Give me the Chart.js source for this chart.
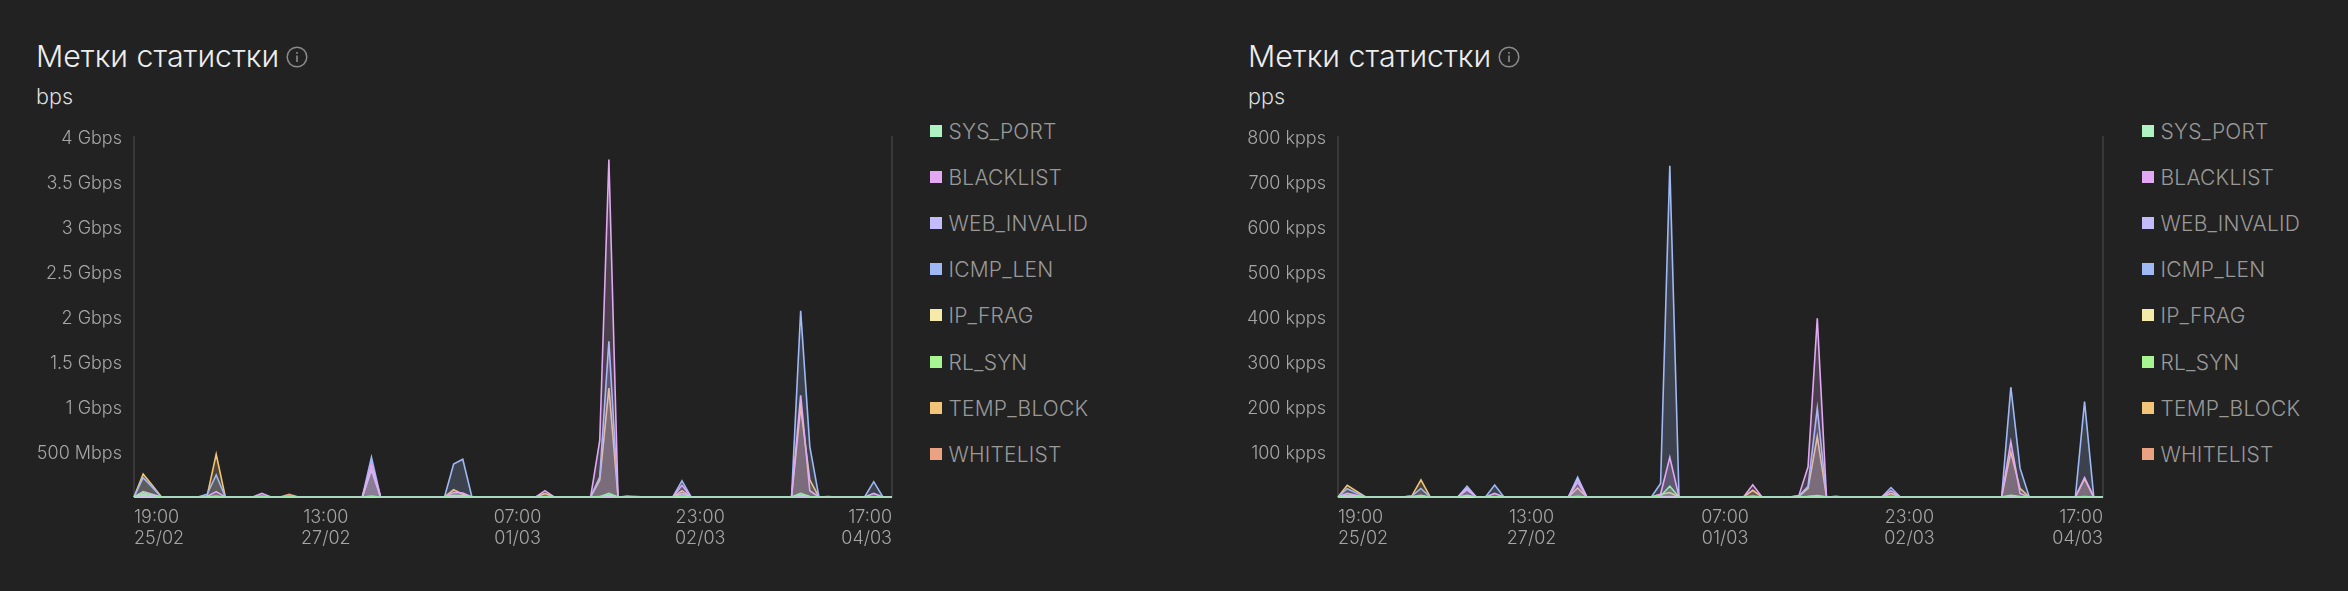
<!DOCTYPE html>
<html>
<head>
<meta charset="utf-8">
<script src="https://cdn.jsdelivr.net/npm/chart.js@4"></script>
<style>
    body { margin: 0; background: #222222; font-family: Inter, sans-serif; font-weight: 300; }
    #page { position: relative; width: 2348px; height: 591px; overflow: hidden; }
    .title { position: absolute; top: 36px; font-size: 30.3px; line-height: 40px; color: #ededed; white-space: nowrap; }
    .unit { position: absolute; top: 83px; font-size: 21.5px; line-height: 26px; color: #dedede; }
    .info { position: absolute; top: 46px; }
    canvas { position: absolute; top: 100px; }
    .legend-item { position: absolute; font-size: 21px; letter-spacing: 0.2px; line-height: 26px; color: #999999; white-space: nowrap; }
    .legend-item i { position: absolute; left: -19px; top: 6px; width: 12px; height: 12px; }
</style>
</head>
<body>
<div id="page"></div>
<script>
const seriesNames = ['SYS_PORT', 'BLACKLIST', 'WEB_INVALID', 'ICMP_LEN', 'IP_FRAG', 'RL_SYN', 'TEMP_BLOCK', 'WHITELIST'];
const seriesColors = ['#aef3c1', '#e2a8f3', '#c4bcfa', '#9fb9f5', '#f6eaa8', '#a6f590', '#f3c477', '#eba283'];
const lineColors = ['#98e6aa', '#e2a8f3', '#c4bcfa', '#9fb9f5', '#f6eaa8', '#a6f590', '#f3c477', '#eba283'];

// Подписи оси X, шаг 2 часа
const xTickIndexes = [0, 21, 42, 62, 83];
const categories = [];
for (let i = 0; i < 84; i++) {
    const d = new Date(Date.UTC(2025, 1, 25, 19 + i * 2));
    const p = n => String(n).padStart(2, '0');
    categories.push(p(d.getUTCHours()) + ':00\n' + p(d.getUTCDate()) + '/' + p(d.getUTCMonth() + 1));
}

// bps, значения в Mbps
const sysPortBps = [
    0,50,20,0,0,0,0,0,2,8,0,0,
    0,0,6,0,0,4,0,0,0,0,0,0,
    0,0,8,0,0,0,0,0,0,0,0,20,
    15,0,0,0,0,0,0,0,0,3,0,0,
    0,0,0,4,40,0,0,0,0,0,0,0,
    10,0,0,0,0,0,0,0,0,0,0,0,
    0,40,6,0,0,0,0,0,0,5,0,0];
const blacklistBps = [
    0,60,30,0,0,0,0,0,5,60,0,0,
    0,0,40,0,0,10,0,0,0,0,0,0,
    0,0,374,0,0,0,0,0,0,0,0,50,
    45,0,0,0,0,0,0,0,0,70,0,0,
    0,0,0,630,3750,0,0,0,0,0,0,0,
    130,0,0,0,0,0,0,0,0,0,0,0,
    0,1130,70,0,4,0,0,0,0,40,0,0];
const webInvalidBps = [
    0,15,8,0,0,0,0,0,0,0,0,0,
    0,0,10,0,0,0,0,0,0,0,0,0,
    0,0,300,0,0,0,0,0,0,0,0,0,
    0,0,0,0,0,0,0,0,0,0,0,0,
    0,0,0,0,0,0,0,0,0,0,0,0,
    40,0,0,0,0,0,0,0,0,0,0,0,
    0,0,0,0,0,0,0,0,0,0,0,0];
const icmpLenBps = [
    0,215,110,0,0,0,0,0,30,245,0,0,
    0,0,0,0,0,0,0,0,0,0,0,0,
    0,0,440,0,0,0,0,0,0,0,0,367,
    420,0,0,0,0,0,0,0,0,0,0,0,
    0,0,0,225,1730,0,0,0,0,0,0,0,
    180,0,0,0,0,0,0,0,0,0,0,0,
    0,2070,560,0,0,0,0,0,0,170,0,0];
const ipFragBps = [
    0,0,0,0,0,0,0,0,0,0,0,0,
    0,0,0,0,0,5,0,0,0,0,0,0,
    0,0,0,0,0,0,0,0,0,0,0,0,
    0,0,0,0,0,0,0,0,0,5,0,0,
    0,0,0,0,0,0,6,0,0,0,0,0,
    0,0,0,0,0,0,0,0,0,0,0,0,
    0,0,0,0,0,0,0,0,0,0,0,0];
const rlSynBps = [
    0,30,12,0,0,0,0,0,0,5,0,0,
    0,0,0,0,0,0,0,0,0,0,0,0,
    0,0,5,0,0,0,0,0,0,0,0,10,
    8,0,0,0,0,0,0,0,0,0,0,0,
    0,0,0,2,20,0,0,0,0,0,0,0,
    5,0,0,0,0,0,0,0,0,0,0,0,
    0,20,3,0,0,0,0,0,0,0,0,0];
const tempBlockBps = [
    0,256,130,0,0,0,0,0,10,474,0,0,
    0,0,0,0,0,0,0,0,0,0,0,0,
    0,0,320,0,0,0,0,0,0,0,0,80,
    30,0,0,0,0,0,0,0,0,40,0,0,
    0,0,0,190,1210,0,8,6,0,0,0,0,
    70,0,0,0,0,0,0,0,0,0,0,0,
    0,1000,190,0,0,0,0,0,0,0,0,0];
const whitelistBps = [
    0,0,0,0,0,0,0,0,0,5,0,0,
    0,0,0,0,0,30,0,0,0,0,0,0,
    0,0,0,0,0,0,0,0,0,0,0,0,
    0,0,0,0,0,0,0,0,0,0,0,0,
    0,0,0,0,0,0,0,0,0,0,0,0,
    0,0,0,0,0,0,0,0,0,0,0,0,
    0,0,0,0,0,0,0,0,0,0,0,0];

// pps, значения в kpps
const sysPortPps = [
    0,4,2,0,0,0,0,0,0,1,0,0,
    0,0,3.5,0,0,1,0,0,0,0,0,0,
    0,0,1,0,0,0,0,0,0,0,0,2,
    24,0,0,0,0,0,0,0,0,2,0,0,
    0,0,0,1,3,0,0,0,0,0,0,0,
    1,0,0,0,0,0,0,0,0,0,0,0,
    0,4,1,0,0,0,0,0,0,1,0,0];
const blacklistPps = [
    0,8,4,0,0,0,0,0,1,4,0,0,
    0,0,16,0,0,8,0,0,0,0,0,0,
    0,0,33,0,0,0,0,0,0,0,0,6,
    88,0,0,0,0,0,0,0,0,27,0,0,
    0,0,3,67,397,0,0,0,0,0,0,0,
    14,0,0,0,0,0,0,0,0,0,0,0,
    0,123,8,0,0,0,0,0,0,43,0,0];
const webInvalidPps = [
    0,0,0,0,0,0,0,0,0,0,0,0,
    0,0,20,0,0,0,0,0,0,0,0,0,
    0,0,40,0,0,0,0,0,0,0,0,0,
    0,0,0,0,0,0,0,0,0,0,0,0,
    0,0,0,0,0,0,0,0,0,0,0,0,
    0,0,0,0,0,0,0,0,0,0,0,0,
    0,0,0,0,0,0,0,0,0,0,0,0];
const icmpLenPps = [
    0,18.5,9,0,0,0,0,0,2,19,0,0,
    0,0,24,0,0,26.7,0,0,0,0,0,0,
    0,0,44,0,0,0,0,0,0,0,0,30,
    736,0,0,0,0,0,0,0,0,0,0,0,
    0,0,2,24,197,0,0,0,0,0,0,0,
    21,0,0,0,0,0,0,0,0,0,0,0,
    0,244,64,0,0,0,0,0,0,212,0,0];
const ipFragPps = [
    0,0,0,0,0,0,0,0,0,0,0,0,
    0,0,0,0,0,0,0,0,0,0,0,0,
    0,0,0,0,0,0,0,0,0,0,0,0,
    0,0,0,0,0,0,0,0,0,0,0,0,
    0,0,0,0,0,0,1,0,0,0,0,0,
    0,0,0,0,0,0,0,0,0,0,0,0,
    0,0,0,0,0,0,0,0,0,0,0,0];
const rlSynPps = [
    0,2,1,0,0,0,0,0,0,1,0,0,
    0,0,1,0,0,0,0,0,0,0,0,0,
    0,0,1,0,0,0,0,0,0,0,0,1,
    0,0,0,0,0,0,0,0,0,0,0,0,
    0,0,0,1,2,0,0,0,0,0,0,0,
    1,0,0,0,0,0,0,0,0,0,0,0,
    0,2,0,0,0,0,0,0,0,0,0,0];
const tempBlockPps = [
    0,26,13,0,0,0,0,0,2,38,0,0,
    0,0,0,0,0,0,0,0,0,0,0,0,
    0,0,20,0,0,0,0,0,0,0,0,6,
    10,0,0,0,0,0,0,0,0,15,0,0,
    0,0,1,19,134,0,1,0,0,0,0,0,
    8,0,0,0,0,0,0,0,0,0,0,0,
    0,100,19,0,0,0,0,0,0,40,0,0];
const whitelistPps = [
    0,0,0,0,0,0,0,0,0,1,0,0,
    0,0,0,0,0,0,0,0,0,0,0,0,
    0,0,0,0,0,0,0,0,0,0,0,0,
    0,0,0,0,0,0,0,0,0,0,0,0,
    0,0,0,0,0,0,0,0,0,0,0,0,
    0,0,0,0,0,0,0,0,0,0,0,0,
    0,0,0,0,0,0,0,0,0,0,0,0];

const bpsValues = [sysPortBps, blacklistBps, webInvalidBps, icmpLenBps, ipFragBps, rlSynBps, tempBlockBps, whitelistBps];
const ppsValues = [sysPortPps, blacklistPps, webInvalidPps, icmpLenPps, ipFragPps, rlSynPps, tempBlockPps, whitelistPps];

const page = document.getElementById('page');

function hexToFill(hex) {
    const n = parseInt(hex.slice(1), 16);
    return `rgba(${n >> 16},${(n >> 8) & 255},${n & 255},0.21)`;
}

function addPanel(offset, unit, values, yMax, yStep, yFormat, yWidth, rightPad, legendX) {
    page.insertAdjacentHTML('beforeend', `
        <div class="title" style="left:${offset + 36}px">Метки статистки</div>
        <svg class="info" style="left:${offset + 286}px" width="22" height="22" viewBox="0 0 22 22" fill="none">
            <circle cx="11" cy="11" r="9.8" stroke="#8a8a8a" stroke-width="1.5"/>
            <rect x="10.2" y="9.5" width="1.6" height="6.5" fill="#8a8a8a"/>
            <rect x="10.2" y="6" width="1.6" height="1.8" fill="#8a8a8a"/>
        </svg>
        <div class="unit" style="left:${offset + 36}px">${unit}</div>`);

    // Легенда
    seriesNames.forEach((name, i) => {
        page.insertAdjacentHTML('beforeend',
            `<div class="legend-item" style="left:${legendX}px;top:${119 + i * 46.1}px"><i style="background:${seriesColors[i]}"></i>${name}</div>`);
    });

    const canvas = document.createElement('canvas');
    canvas.width = 900;
    canvas.height = 460;
    canvas.style.left = offset + 'px';
    page.appendChild(canvas);

    new Chart(canvas.getContext('2d'), {
        type: 'line',
        data: {
            labels: categories,
            datasets: seriesNames.map((name, i) => ({
                label: name,
                data: values[i],
                borderColor: lineColors[i],
                backgroundColor: hexToFill(seriesColors[i]),
                borderWidth: 1.6,
                fill: 'origin',
                tension: 0,
                pointRadius: 0,
                clip: 4
            }))
        },
        options: {
            responsive: false,
            animation: false,
            layout: { padding: { top: 37, right: rightPad, left: 0, bottom: 0 } },
            plugins: { legend: { display: false }, tooltip: { enabled: false } },
            scales: {
                x: {
                    grid: { display: false },
                    border: { display: false },
                    afterBuildTicks: s => { s.ticks = xTickIndexes.map(v => ({ value: v })); },
                    afterFit: s => { s.height = 63; },
                    ticks: {
                        autoSkip: false,
                        maxRotation: 0,
                        align: 'inner',
                        padding: 2,
                        color: '#a6a6a6',
                        font: { family: 'Inter', size: 18, weight: 300, lineHeight: 1.17 },
                        callback: function(v) { return this.getLabelForValue(v).split('\n'); }
                    }
                },
                y: {
                    min: 0,
                    max: yMax,
                    grid: { display: false, drawTicks: false },
                    border: { display: true, color: '#383838', width: 2 },
                    afterFit: s => { s.width = yWidth; },
                    ticks: {
                        stepSize: yStep,
                        padding: 12,
                        labelOffset: 1.5,
                        color: '#a6a6a6',
                        font: { family: 'Inter', size: 18, weight: 300 },
                        callback: yFormat
                    }
                },
                right: {
                    position: 'right',
                    min: 0,
                    max: yMax,
                    grid: { display: false, drawTicks: false },
                    border: { display: true, color: '#383838', width: 2 },
                    ticks: { display: false },
                    afterFit: s => { s.width = 0; }
                }
            }
        }
    });
}

addPanel(0, 'bps', bpsValues, 4000, 500,
    v => v === 0 ? '' : (v >= 1000 ? (v / 1000) + ' Gbps' : v + ' Mbps'), 134, 8, 948.5);
addPanel(1212, 'pps', ppsValues, 800, 100,
    v => v === 0 ? '' : v + ' kpps', 126, 9, 2160.5);
</script>
</body>
</html>
